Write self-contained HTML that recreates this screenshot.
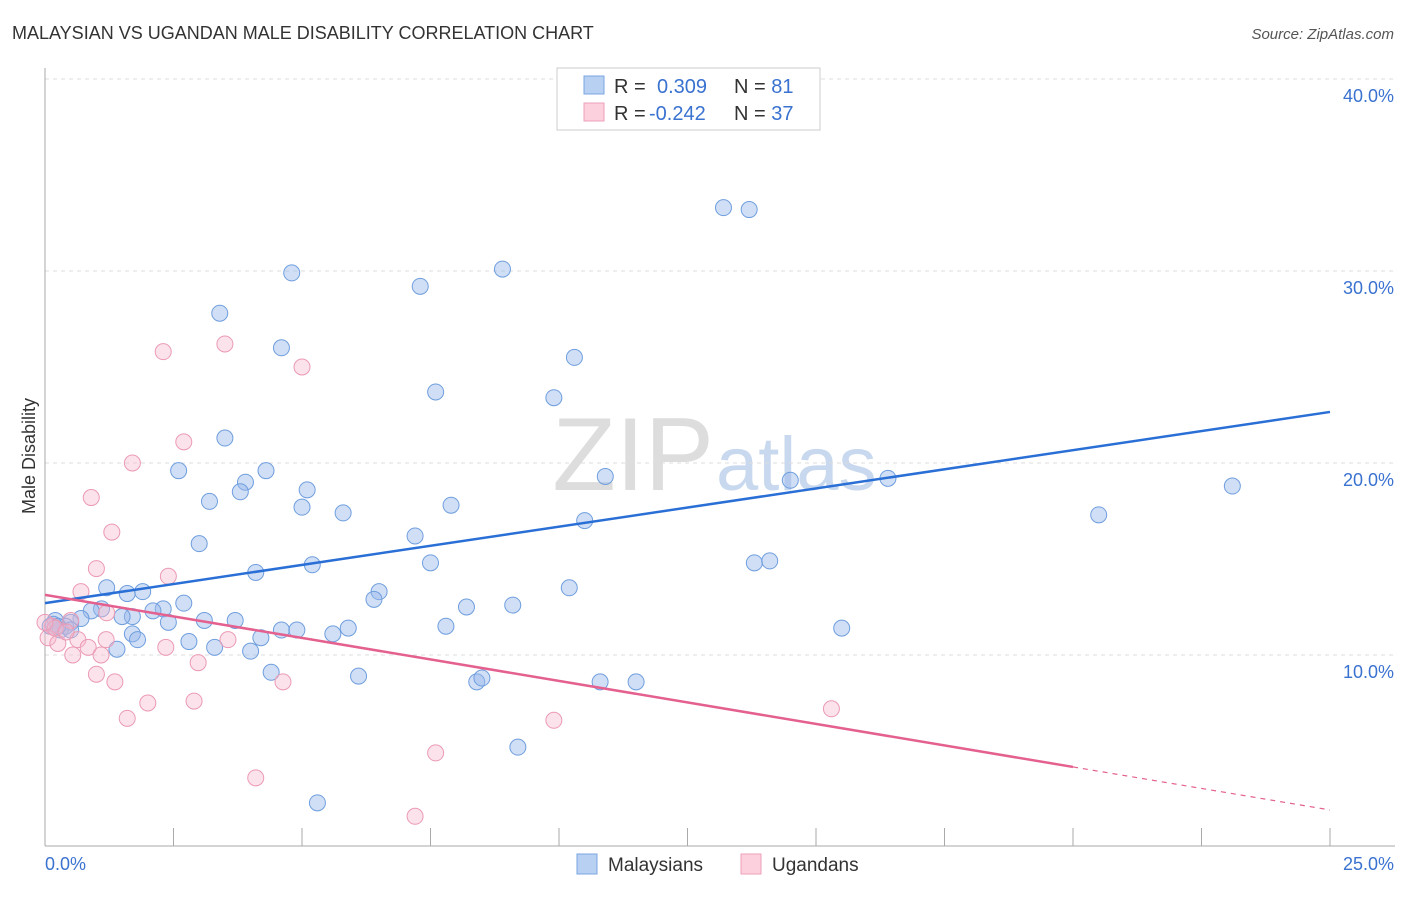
<!DOCTYPE html>
<html><head><meta charset="utf-8"><style>
body{margin:0;background:#fff;font-family:"Liberation Sans",sans-serif}
svg text{font-family:"Liberation Sans",sans-serif}
</style></head><body>
<svg id="chart" width="1406" height="892" viewBox="0 0 1406 892" xmlns="http://www.w3.org/2000/svg">
<text x="12" y="39" font-size="18" fill="#333">MALAYSIAN VS UGANDAN MALE DISABILITY CORRELATION CHART</text>
<text x="1394" y="39" font-size="15" fill="#555" font-style="italic" text-anchor="end">Source: ZipAtlas.com</text>
<text x="714" y="490" font-size="104" fill="#ddd" text-anchor="end" font-family="Liberation Serif">ZIP</text>
<text x="716" y="490" font-size="76" fill="#c8d8ee">atlas</text>
<g id="grid"></g><g id="axes"></g><g id="pts"></g><g id="trend"></g>
<text x="35" y="456" font-size="18" fill="#333" transform="rotate(-90 35 456)" text-anchor="middle">Male Disability</text>
<text x="45" y="870" font-size="18" fill="#3a72d0">0.0%</text>
<text x="1394" y="870" font-size="18" fill="#3a72d0" text-anchor="end">25.0%</text>
<g>
<rect x="557" y="68" width="263" height="62" fill="#fff" stroke="#ccc"/>
<rect x="584" y="76" width="20" height="18" fill="#b8d1f3" stroke="#7aa5e0"/>
<rect x="584" y="103" width="20" height="18" fill="#fcd0dc" stroke="#eea0b8"/>
<text x="614" y="93" font-size="20" fill="#333">R = <tspan x="657" fill="#3a72d0">0.309</tspan><tspan x="734">N = </tspan><tspan fill="#3a72d0">81</tspan></text>
<text x="614" y="120" font-size="20" fill="#333">R = <tspan x="649" fill="#3a72d0">-0.242</tspan><tspan x="734">N = </tspan><tspan fill="#3a72d0">37</tspan></text>
</g>
<g>
<rect x="577" y="854" width="20" height="20" fill="#b8d1f3" stroke="#7aa5e0"/>
<text x="608" y="871" font-size="19" fill="#333">Malaysians</text>
<rect x="741" y="854" width="20" height="20" fill="#fcd0dc" stroke="#eea0b8"/>
<text x="772" y="871" font-size="19" fill="#333">Ugandans</text>
</g>
</svg>
<script>
const yTicks=[10,20,30,40];
const yTickLabels=["10.0%","20.0%","30.0%","40.0%"];
const xTicks=[0,2.5,5,7.5,10,12.5,15,17.5,20,22.5,25];
const malaysiansX=[13.2,13.7,4.8,8.9,7.3,3.4,4.6,10.3,7.6,9.9,3.5,2.6,4.3,3.9,3.8,3.2,5.1,5.0,5.8,7.9,10.9,14.5,16.4,23.1,20.5,10.5,7.2,3.0,5.2,7.5,4.1,13.8,14.1,1.2,1.6,1.9,6.5,10.2,6.4,2.7,2.3,2.1,1.1,0.9,1.7,1.5,2.4,3.1,3.7,8.2,9.1,0.7,0.5,0.4,0.2,0.1,0.3,0.5,1.7,1.8,2.8,1.4,3.3,4.0,4.2,4.6,4.9,5.6,5.9,7.8,15.5,4.4,6.1,8.4,8.5,10.8,11.5,9.2,5.3,0.16,0.25];
const malaysiansY=[33.3,33.2,29.9,30.1,29.2,27.8,26.0,25.5,23.7,23.4,21.3,19.6,19.6,19.0,18.5,18.0,18.6,17.7,17.4,17.8,19.3,19.1,19.2,18.8,17.3,17.0,16.2,15.8,14.7,14.8,14.3,14.8,14.9,13.5,13.2,13.3,13.3,13.5,12.9,12.7,12.4,12.3,12.4,12.3,12.0,12.0,11.7,11.8,11.8,12.5,12.6,11.9,11.7,11.5,11.8,11.5,11.3,11.3,11.1,10.8,10.7,10.3,10.4,10.2,10.9,11.3,11.3,11.1,11.4,11.5,11.4,9.1,8.9,8.6,8.8,8.6,8.6,5.2,2.3,11.6,11.5];
const ugandansX=[2.3,3.5,5.0,2.7,1.7,0.9,1.3,1.0,2.4,0.7,1.2,0.5,0.14,0.06,0.25,0.64,0.84,1.19,0.54,1.09,2.35,3.56,2.98,1.0,1.36,4.63,2.0,2.9,1.6,9.9,15.3,7.6,4.1,7.2,0.2,0.41,0.0];
const ugandansY=[25.8,26.2,25.0,21.1,20.0,18.2,16.4,14.5,14.1,13.3,12.2,11.8,11.5,10.9,10.6,10.8,10.4,10.8,10.0,10.0,10.4,10.8,9.6,9.0,8.6,8.6,7.5,7.6,6.7,6.6,7.2,4.9,3.6,1.6,11.4,11.2,11.7];
const trendBlue=[12.7,22.66];
const trendPink=[13.13,1.93];
const x=v=>45+v*51.4, y=v=>847-v*19.2;
const NS="http://www.w3.org/2000/svg";
function mk(t,a,p){const e=document.createElementNS(NS,t);for(const k in a)e.setAttribute(k,a[k]);p.appendChild(e);return e;}
const gridG=document.getElementById('grid'),axesG=document.getElementById('axes'),ptsG=document.getElementById('pts'),trG=document.getElementById('trend');
yTicks.forEach((t,i)=>{
const l=mk('line',{x1:45,x2:1395,y1:y(t),y2:y(t),stroke:'#ddd','stroke-dasharray':'4,4'},gridG);


const tx=mk('text',{x:1394,y:y(t)+23,'font-size':18,fill:'#3a72d0','text-anchor':'end'},gridG);
tx.textContent=yTickLabels[i];


});
const topGrid=mk('line',{x1:45,x2:1395,y1:79,y2:79,stroke:'#ddd','stroke-dasharray':'4,4'},gridG);


const ya=mk('line',{x1:45,x2:45,y1:68,y2:846,stroke:'#aaa'},axesG);


const xa=mk('line',{x1:45,x2:1395,y1:846,y2:846,stroke:'#aaa'},axesG);


xTicks.forEach(t=>{const l=mk('line',{x1:x(t),x2:x(t),y1:828,y2:846,stroke:'#aaa'},axesG);

});
malaysiansX.forEach((v,i)=>{const c=mk('circle',{cx:x(v),cy:y(malaysiansY[i]),r:8,fill:'rgba(150,185,235,0.45)',stroke:'#6f9ede','stroke-width':1},ptsG);

});
ugandansX.forEach((v,i)=>{const c=mk('circle',{cx:x(v),cy:y(ugandansY[i]),r:8,fill:'rgba(248,185,205,0.4)',stroke:'#eb9ab4','stroke-width':1},ptsG);

});
const bl=mk('line',{x1:x(0),y1:y(trendBlue[0]),x2:x(25),y2:y(trendBlue[1]),stroke:'#2a6fd6','stroke-width':2.5},trG);


const pAt=v=>trendPink[0]+(trendPink[1]-trendPink[0])*v/25;
const pl=mk('line',{x1:x(0),y1:y(pAt(0)),x2:x(20),y2:y(pAt(20)),stroke:'#e4608e','stroke-width':2.5},trG);


const pd=mk('line',{x1:x(20),y1:y(pAt(20)),x2:x(25),y2:y(pAt(25)),stroke:'#e4608e','stroke-width':1.2,'stroke-dasharray':'5,5'},trG);


</script>
</body></html>
